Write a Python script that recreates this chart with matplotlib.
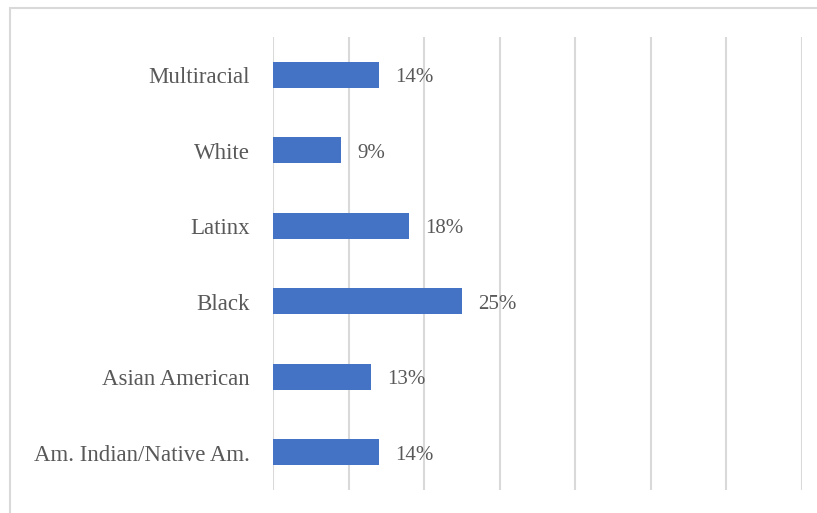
import matplotlib
matplotlib.use('AGG')
import matplotlib.pyplot as plt
from matplotlib.patches import Rectangle

groups = ['Am. Indian/Native Am.', 'Asian American', 'Black', 'Latinx', 'White', 'Multiracial']
shares = [14, 13, 25, 18, 9, 14]

W, H = 817, 513
fig = plt.figure(figsize=(W / 100, H / 100), dpi=100)
ax = fig.add_axes([273 / W, 1 - 490 / H, (802 - 273) / W, (490 - 37) / H])

# chart area border, runs past the right and bottom edges
fig.patches.append(Rectangle((10 / W, -0.1), 1.2, 1 - 8 / H + 0.1,
                             transform=fig.transFigure, fill=False,
                             edgecolor='#d9d9d9', lw=1.5))

ypos = range(len(groups))
ax.barh(ypos, shares, height=0.35, color='#4472c4', zorder=3)

txt = dict(family='Liberation Serif', size=16.5, color='#595959')
for y, v, g in zip(ypos, shares, groups):
    ax.annotate('%d%%' % v, (v, y), xytext=(16, -3), textcoords='offset pixels',
                va='center', ha='left', family='Liberation Serif', size=15,
                color='#595959')
    # category names left of the axis
    ax.annotate(g, (0, y), xytext=(-23, -3), textcoords='offset pixels',
                va='center', ha='right', annotation_clip=False, **txt)

ax.set_xlim(0, 70)
ax.set_ylim(-0.5, len(groups) - 0.5)
ax.set_xticks(range(0, 71, 10))
ax.set_xticklabels([])
ax.tick_params(axis='x', length=0)
ax.set_yticks([])
ax.grid(axis='x', color='#d9d9d9', lw=1.5, zorder=0)
for s in ax.spines.values():
    s.set_visible(False)

plt.savefig('out.png', dpi=100)
plt.close('all')
